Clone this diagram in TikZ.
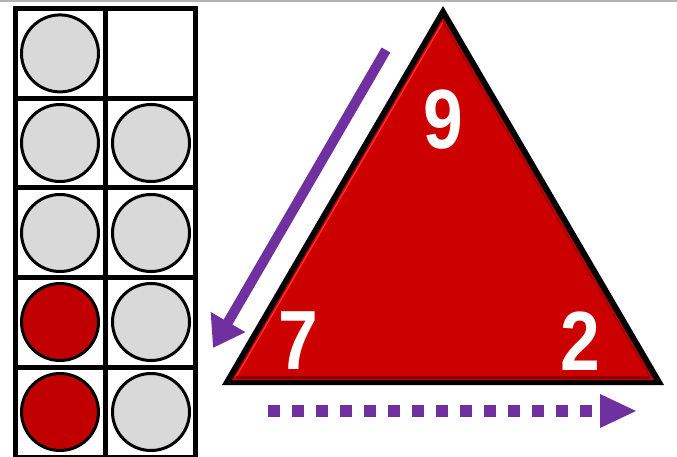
\documentclass[tikz,border=0pt]{standalone}
\usepackage{fontspec}
\setmainfont{Liberation Sans}
\usetikzlibrary{arrows.meta}
\definecolor{tred}{HTML}{CC0000}
\definecolor{cred}{HTML}{C00000}
\definecolor{cgray}{HTML}{D9D9D9}
\definecolor{purp}{HTML}{7030A0}
\tikzset{
  gridline/.style={line width=5pt, black},
  counter/.style={circle, draw=black, line width=3pt, minimum size=77pt, inner sep=0pt},
  graycounter/.style={counter, fill=cgray},
  redcounter/.style={counter, fill=cred},
  digit/.style={text=white, font=\bfseries\fontsize{84}{84}\selectfont, inner sep=0pt, xscale=0.85},
  purparrow/.style={draw=purp, line width=10pt, -{Triangle[length=30pt,width=38pt]}},
  dotarrow/.style={draw=purp, line width=12pt, dash pattern=on 12pt off 12pt}
}
\begin{document}
\begin{tikzpicture}[x=1pt,y=-1pt]
\useasboundingbox (0,0) rectangle (677,457);
\fill[white] (0,0) rectangle (677,457);
\draw[gray!60, line width=2pt] (0,1) -- (677,1);
% ten frame
\foreach \i in {0,...,5} {
  \draw[gridline] (15.5,{8.5+89.7*\i}) -- (195,{8.5+89.7*\i});
}
\draw[gridline] (15.5,6) -- (15.5,460);
\draw[gridline] (105,6) -- (105,460);
\draw[gridline] (195,6) -- (195,460);
% counters
\node[graycounter] (c11) at (60,53.4) {};
\node[graycounter] (c21) at (60,143) {};
\node[graycounter] (c22) at (151,143) {};
\node[graycounter] (c31) at (60,233) {};
\node[graycounter] (c32) at (151,233) {};
\node[redcounter] (c41) at (60,322) {};
\node[graycounter] (c42) at (151,322) {};
\node[redcounter] (c51) at (60,412) {};
\node[graycounter] (c52) at (151,412) {};
% triangle
\coordinate (apex) at (443,6);
\coordinate (bl) at (222,385);
\coordinate (br) at (664,385);
\fill[black, line join=miter] (apex) -- (bl) -- (br) -- cycle;
\fill[tred] (443,18) -- (232,380) -- (654,380) -- cycle;
\draw[red!80!white, line width=1.2pt, line join=round] (443,22) -- (236,377);
\draw[red!55!black, line width=3pt] (236,377) -- (650,377);
\draw[red!60!black, line width=1.2pt] (443,22) -- (650,377);
\node[digit] (n9) at (443,120) {9};
\node[digit] (n7) at (298,341) {7};
\node[digit] (n2) at (580,341) {2};
% arrows
\coordinate (a1s) at (386,50);
\coordinate (a1e) at (213,348);
\draw[purparrow] (a1s) -- (a1e);
\coordinate (d1s) at (268,411);
\coordinate (d1e) at (604,411);
\coordinate (d1tip) at (636,411);
\draw[dotarrow] (d1s) -- (d1e);
\fill[purp] (600,394) -- (d1tip) -- (600,428) -- cycle;
\end{tikzpicture}
\end{document}
